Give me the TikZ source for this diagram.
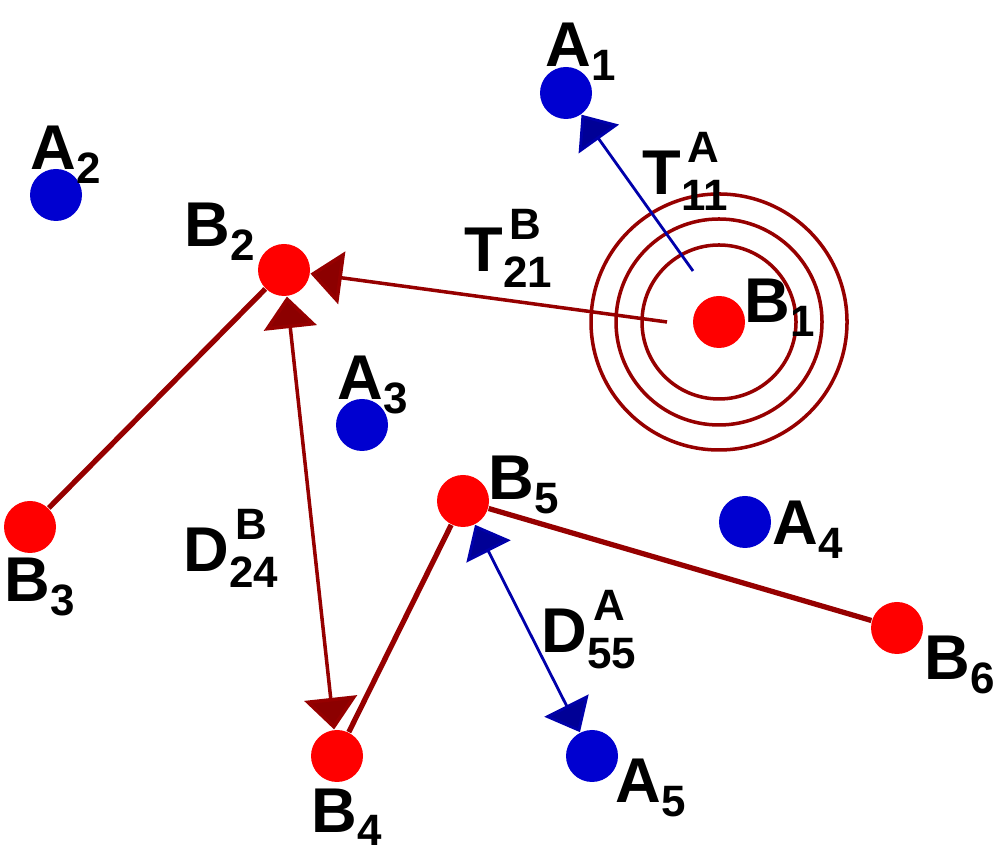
\documentclass[tikz,border=0pt]{standalone}
\usepackage{fontspec}
\setmainfont{Liberation Sans}
\usetikzlibrary{arrows.meta}
\definecolor{dotred}{RGB}{255,0,0}
\definecolor{dotblue}{RGB}{0,0,208}
\definecolor{linered}{RGB}{150,0,0}
\definecolor{tipred}{RGB}{140,0,0}
\definecolor{lineblue}{RGB}{0,0,170}
\definecolor{tipblue}{RGB}{0,0,150}
\newcommand{\idx}{\fontsize{12.5}{12.5}\selectfont}
\newcommand{\lsub}[2]{#1\raisebox{-0.22em}{\idx #2}}
\newcommand{\lsupsub}[3]{#1\rlap{\hspace{0.1em}\raisebox{0.52em}{\idx #2}}\raisebox{-0.25em}{\idx #3}}

\begin{document}
\begin{tikzpicture}[
  bdot/.style={circle,fill=dotred,inner sep=0pt,minimum size=0.52cm},
  adot/.style={circle,fill=dotblue,inner sep=0pt,minimum size=0.52cm},
  lbl/.style={anchor=base west,inner sep=0pt,font=\fontsize{18}{18}\selectfont\bfseries},
  link/.style={draw=linered,line width=1.5pt},
  ring/.style={draw=linered,line width=1pt},
  rdist/.style={draw=linered,line width=1pt},
  bdist/.style={draw=lineblue,line width=0.8pt},
  rtip/.style={arrows={-{Triangle[length=9pt,width=15pt,fill=tipred]}}},
  rtips/.style={arrows={{Triangle[length=9pt,width=15pt,fill=tipred]}-{Triangle[length=9pt,width=15pt,fill=tipred]}}},
  btip/.style={arrows={-{Triangle[length=8.5pt,width=14pt,fill=tipblue]}}},
  btips/.style={arrows={{Triangle[length=8.5pt,width=14pt,fill=tipblue]}-{Triangle[length=8.5pt,width=14pt,fill=tipblue]}}}
]
\useasboundingbox (0,0) rectangle (10,8.64);

% points
\node[bdot] (B1) at (7.19,5.42) {};
\node[bdot] (B2) at (2.84,5.94) {};
\node[bdot] (B3) at (0.30,3.37) {};
\node[bdot] (B4) at (3.37,1.08) {};
\node[bdot] (B5) at (4.63,3.63) {};
\node[bdot] (B6) at (8.97,2.36) {};
\node[adot] (A1) at (5.66,7.71) {};
\node[adot] (A2) at (0.56,6.69) {};
\node[adot] (A3) at (3.62,4.39) {};
\node[adot] (A4) at (7.45,3.42) {};
\node[adot] (A5) at (5.92,1.08) {};

\coordinate (t21) at (6.67,5.42);
\coordinate (t11) at (6.93,5.93);

% rings round B1
\draw[ring] (B1) circle (0.77);
\draw[ring] (B1) circle (1.03);
\draw[ring] (B1) circle (1.28);

\draw[link] (B2) -- (B3);
\draw[link] (B4) -- (B5);
\draw[link] (B5) -- (B6);

\draw[rdist,rtip] (t21) -- (B2);
\draw[rdist,rtips] (B2) -- (B4);
\draw[bdist,btip] (t11) -- (A1);
\draw[bdist,btips] (B5) -- (A5);

% labels
\node[lbl] (lA1) at (5.45,7.97) {\lsub{A}{1}};
\node[lbl] (lA2) at (0.30,6.94) {\lsub{A}{2}};
\node[lbl] (lA3) at (3.37,4.64) {\lsub{A}{3}};
\node[lbl] (lA4) at (7.72,3.19) {\lsub{A}{4}};
\node[lbl] (lA5) at (6.15,0.61) {\lsub{A}{5}};
\node[lbl] (lB1) at (7.44,5.41) {\lsub{B}{1}};
\node[lbl] (lB2) at (1.84,6.17) {\lsub{B}{2}};
\node[lbl] (lB3) at (0.04,2.62) {\lsub{B}{3}};
\node[lbl] (lB4) at (3.11,0.32) {\lsub{B}{4}};
\node[lbl] (lB5) at (4.88,3.64) {\lsub{B}{5}};
\node[lbl] (lB6) at (9.24,1.84) {\lsub{B}{6}};
\node[lbl] (lT21) at (4.64,5.92) {\lsupsub{T}{B}{21}};
\node[lbl] (lT11) at (6.42,6.69) {\lsupsub{T}{A}{11}};
\node[lbl] (lD24) at (1.83,2.92) {\lsupsub{D}{B}{24}};
\node[lbl] (lD55) at (5.41,2.11) {\lsupsub{D}{A}{55}};
\end{tikzpicture}
\end{document}
